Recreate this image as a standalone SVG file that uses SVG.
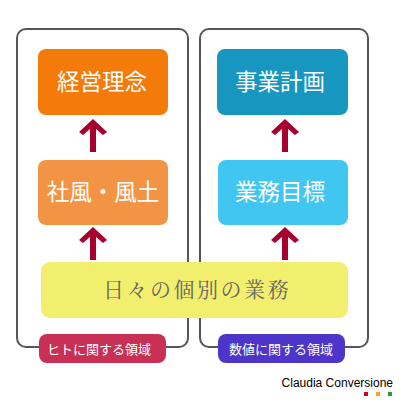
<svg xmlns="http://www.w3.org/2000/svg" width="400" height="400" viewBox="0 0 400 400">
<defs>
<style>
.panel{fill:#fff;stroke:#5a5458;stroke-width:2}
.t{font-family:"Noto Sans CJK JP","Noto Sans",sans-serif;fill:#fff;text-anchor:middle}
.big{font-size:22.5px}
.lab{font-size:13px}
.ser{font-family:"Noto Serif CJK JP","Liberation Serif","Noto Sans CJK JP",serif;font-size:21px;fill:#666;text-anchor:middle;letter-spacing:2.5px}
.arr{fill:#a8002e}
</style>
<path id="ar" d="M0,0 L14,13 L10,16 L3,10 L3,33 L-3,33 L-3,10 L-10,16 L-14,13 Z"/>
</defs>
<rect width="400" height="400" fill="#fff"/>
<g id="panel-left"><rect class="panel" x="17" y="29" width="171" height="318" rx="9"/></g>
<g id="panel-right"><rect class="panel" x="200" y="29" width="168" height="318" rx="9"/></g>
<g id="connectors" class="arr">
<use href="#ar" x="93" y="119"/>
<use href="#ar" x="93" y="227"/>
<use href="#ar" x="285" y="119"/>
<use href="#ar" x="285" y="227"/>
</g>
<g id="n-keiei"><rect x="38" y="49" width="130" height="66" rx="8" fill="#f47a0a"/><text class="t big" x="102" y="90">経営理念</text></g>
<g id="n-shafu"><rect x="38" y="160" width="130" height="65" rx="8" fill="#f39444"/><text class="t big" x="103" y="200">社風・風土</text></g>
<g id="n-jigyo"><rect x="217" y="49" width="131" height="66" rx="8" fill="#1797c0"/><text class="t big" x="280" y="90">事業計画</text></g>
<g id="n-gyomu"><rect x="218" y="160" width="130" height="65" rx="8" fill="#40c6f0"/><text class="t big" x="280" y="200">業務目標</text></g>
<g id="n-daily"><rect x="41" y="262" width="307" height="56" rx="9" fill="#f2ef6e"/><text class="ser" x="197" y="297">日々の個別の業務</text></g>
<g id="l-hito"><rect x="39" y="334" width="127" height="29" rx="8" fill="#c93055"/><text class="t lab" x="99" y="354">ヒトに関する領域</text></g>
<g id="l-suchi"><rect x="218" y="334" width="127" height="29" rx="8" fill="#4c35c8"/><text class="t lab" x="281" y="354">数値に関する領域</text></g>
<g id="footer">
<text x="393" y="387" font-family="Liberation Sans,Arial,sans-serif" font-size="12" text-anchor="end" fill="#000">Claudia Conversione</text>
<rect x="364" y="392" width="4" height="4" fill="#d0021b"/>
<rect x="376" y="392" width="4" height="4" fill="#f5a623"/>
<rect x="388" y="392" width="4" height="4" fill="#2a9d2a"/>
</g>
</svg>
